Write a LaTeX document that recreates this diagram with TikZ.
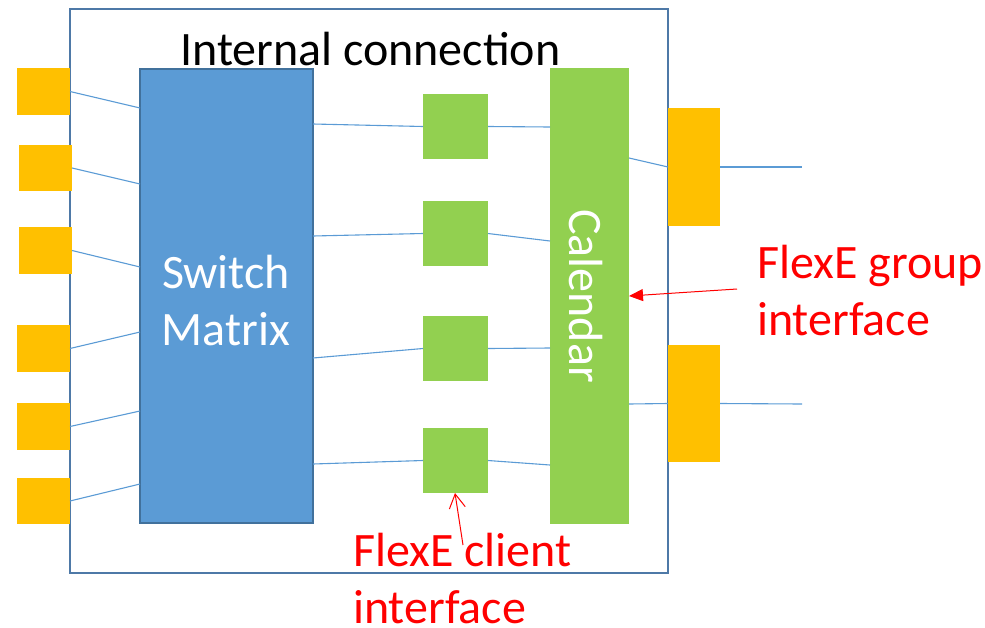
\documentclass[tikz,border=0pt]{standalone}
\usepackage{fontspec}
\setmainfont{Carlito}
\usetikzlibrary{arrows.meta,calc}
\definecolor{orangeC}{HTML}{FFC000}
\definecolor{greenC}{HTML}{92D050}
\definecolor{blueC}{HTML}{5B9BD5}
\definecolor{blueB}{HTML}{41719C}
\definecolor{frameC}{HTML}{4E79A7}
\definecolor{redC}{HTML}{FF0000}
\begin{document}
\begin{tikzpicture}[x=1pt,y=-1pt,
  box/.style={rectangle,inner sep=0pt,outer sep=0pt,anchor=north west},
  port/.style={box,fill=orangeC},
  gbox/.style={box,fill=greenC},
  wire/.style={draw=blueC,line width=1.1pt},
  big/.style={font=\fontsize{48}{57}\selectfont},
  redlbl/.style={big,text=redC,align=left,inner sep=0pt,anchor=base west},
  redarrow/.style={draw=redC,line width=1pt}
]
\useasboundingbox (0,0) rectangle (985,627);
% outer frame
\node[box,draw=frameC,line width=2pt,minimum width=598pt,minimum height=564pt] (frame) at (70,9) {};
% left ports
\node[port,minimum width=53pt,minimum height=47pt] (l1) at (17,68) {};
\node[port,minimum width=53pt,minimum height=46pt] (l2) at (19,145) {};
\node[port,minimum width=53pt,minimum height=47pt] (l3) at (19,227) {};
\node[port,minimum width=53pt,minimum height=47pt] (l4) at (17,325) {};
\node[port,minimum width=53pt,minimum height=47pt] (l5) at (17,403) {};
\node[port,minimum width=53pt,minimum height=46pt] (l6) at (17,478) {};
% switch matrix
\node[box,fill=blueC,draw=blueB,line width=2pt,minimum width=173pt,minimum height=454pt] (sw) at (140,69) {};
\node[big,text=white,align=center,anchor=base,inner sep=0pt] at (226,345) {Switch\\Matrix};
% client squares
\node[gbox,minimum width=65pt,minimum height=65pt] (s1) at (423,94) {};
\node[gbox,minimum width=65pt,minimum height=65pt] (s2) at (423,201) {};
\node[gbox,minimum width=65pt,minimum height=65pt] (s3) at (423,316) {};
\node[gbox,minimum width=65pt,minimum height=65pt] (s4) at (423,428) {};
% calendar
\node[gbox,minimum width=79pt,minimum height=456pt] (cal) at (550,68) {};
\node[big,text=white,rotate=-90,inner sep=0pt] at (586,296) {Calendar};
% right ports
\node[port,minimum width=52pt,minimum height=118pt] (r1) at (668,108) {};
\node[port,minimum width=52pt,minimum height=117pt] (r2) at (668,345) {};
\coordinate (o1) at (802,167);
\coordinate (o2) at (802,404);
% title
\node[big,anchor=base west,inner sep=0pt] (title) at (180,65) {Internal connection};
% wires left
\draw[wire] (l1.east) -- ([yshift=-39pt]sw.north west);
\draw[wire] (l2.east) -- ([yshift=-115pt]sw.north west);
\draw[wire] (l3.east) -- ([yshift=-198pt]sw.north west);
\draw[wire] (l4.east) -- ([yshift=-263pt]sw.north west);
\draw[wire] (l5.east) -- ([yshift=-342pt]sw.north west);
\draw[wire] (l6.east) -- ([yshift=-415pt]sw.north west);
% switch to squares
\draw[wire] ([yshift=-55pt]sw.north east) -- (s1.west);
\draw[wire] ([yshift=-167pt]sw.north east) -- (s2.west);
\draw[wire] ([yshift=-289pt]sw.north east) -- (s3.west);
\draw[wire] ([yshift=-395pt]sw.north east) -- (s4.west);
% squares to calendar
\draw[wire] (s1.east) -- ([yshift=-59pt]cal.north west);
\draw[wire] (s2.east) -- ([yshift=-173pt]cal.north west);
\draw[wire] (s3.east) -- ([yshift=-280pt]cal.north west);
\draw[wire] (s4.east) -- ([yshift=-397pt]cal.north west);
% calendar to right ports
\draw[wire] ([yshift=-90pt]cal.north east) -- (r1.west);
\draw[wire] ([yshift=-336pt]cal.north east) -- (r2.west);
\draw[wire] (r1.east) -- (o1);
\draw[wire] (r2.east) -- (o2);
% red labels
\node[redlbl] (fg) at (757,335) {FlexE group\\interface};
\node[redlbl] (fc) at (353,623) {FlexE client\\interface};
\coordinate (fgstart) at (737,289);
\coordinate (fcstart) at (463,545);
\draw[redarrow,-{Triangle[length=14pt,width=12pt]}] (fgstart) -- ([yshift=-228pt]cal.north east);
\draw[redarrow,-{Straight Barb[length=14pt,width=16pt,line width=1pt]}] (fcstart) -- ([xshift=32pt]s4.south west);
\end{tikzpicture}
\end{document}
